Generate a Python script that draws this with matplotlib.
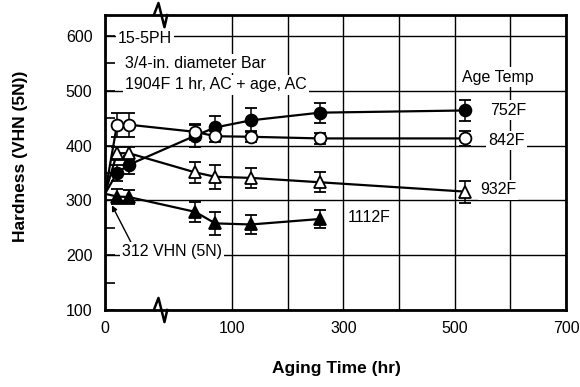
import numpy as np
import matplotlib
matplotlib.use("Agg")
import matplotlib.pyplot as plt

# ==============================
# Data
# ==============================
START_HOURS = 0
START_HV = 312          # 312 VHN (5N) as-solution-treated

hours = [4, 8, 34, 70, 134, 258, 518]
hours_1112 = [4, 8, 34, 70, 134, 258]

hv_752 = [350, 365, 418, 433, 446, 460, 464]
err_752 = [15, 16, 20, 20, 22, 18, 20]

hv_842 = [438, 438, 425, 417, 416, 413, 413]
err_842 = [22, 22, 15, 10, 10, 10, 14]

hv_932 = [386, 386, 351, 343, 341, 333, 316]
err_932 = [12, 12, 19, 22, 18, 18, 20]

hv_1112 = [307, 306, 279, 258, 256, 266]
err_1112 = [13, 13, 18, 21, 17, 16]

x_ticks = [0, 100, 300, 500, 700]
x_minor = [200, 400, 600]
y_ticks = [100, 200, 300, 400, 500, 600]

# ==============================
# Broken (piecewise) time axis
# ==============================
KNOT_H = np.array([-700, 0, 12, 30, 700, 1400], dtype=float)
KNOT_P = np.array([-2100, 0, 36, 88, 461, 834], dtype=float)


def fwd(v):
    return np.interp(v, KNOT_H, KNOT_P)


def inv(p):
    return np.interp(p, KNOT_P, KNOT_H)


plt.rcParams["font.family"] = ["Liberation Sans", "DejaVu Sans"]

fig = plt.figure(figsize=(5.8, 3.87), dpi=100)
ax = fig.add_axes([0.181, 0.199, 0.795, 0.762])
ax.set_xscale("function", functions=(fwd, inv))

series = [
    (hours, hv_752, err_752, "o", "black"),
    (hours, hv_842, err_842, "o", "white"),
    (hours, hv_932, err_932, "^", "white"),
    (hours_1112, hv_1112, err_1112, "^", "black"),
]

for h, hv, err, mk, face in series:
    ax.plot([START_HOURS] + h, [START_HV] + hv, color="black", linewidth=1.6, zorder=3)
    ax.errorbar(h, hv, yerr=err, fmt=mk, color="black", markerfacecolor=face,
                markeredgecolor="black", markersize=8.5, markeredgewidth=1.3,
                elinewidth=1.1, capsize=4, capthick=1.1, zorder=4)

ax.set_xlim(0, 700)
ax.set_ylim(100, 638)

ax.set_xticks(x_ticks)
ax.set_xticks(x_minor, minor=True)
ax.set_yticks(y_ticks)
ax.set_yticks(np.arange(150, 638, 100), minor=True)

ax.tick_params(axis="x", which="both", length=0, pad=8, labelsize=11.5)
ax.tick_params(axis="y", which="major", direction="in", length=7, width=1.2,
               pad=9, labelsize=11.5)
ax.tick_params(axis="y", which="minor", direction="in", length=7, width=1.2)

ax.grid(True, axis="x", which="both", color="black", linewidth=1.0, zorder=1)
ax.grid(True, axis="y", which="major", color="black", linewidth=1.0, zorder=1)

for s in ax.spines.values():
    s.set_linewidth(2.0)

ax.set_xlabel("Aging Time (hr)", fontsize=12.5, fontweight="bold")
ax.set_ylabel("Hardness (VHN (5N))", fontsize=12.5, fontweight="bold")
ax.xaxis.set_label_coords(0.503, -0.172)
ax.yaxis.set_label_coords(-0.167, 0.52)

# ==============================
# Annotations
# ==============================
box = dict(facecolor="white", edgecolor="none", pad=1.5)
ax.text(0.028, 0.922, "15-5PH", transform=ax.transAxes, fontsize=11.5,
        va="center", ha="left", bbox=box, zorder=5)
ax.text(0.043, 0.837, "3/4-in. diameter Bar", transform=ax.transAxes, fontsize=11.5,
        va="center", ha="left", bbox=box, zorder=5)
ax.text(0.043, 0.763, "1904F 1 hr, AC + age, AC", transform=ax.transAxes, fontsize=11.5,
        va="center", ha="left", bbox=box, zorder=5)

ax.text(0.774, 0.790, "Age Temp", transform=ax.transAxes, fontsize=11.5,
        va="center", ha="left", bbox=box, zorder=5)
ax.text(0.835, 0.678, "752F", transform=ax.transAxes, fontsize=11.5,
        va="center", ha="left", bbox=box, zorder=5)
ax.text(0.831, 0.576, "842F", transform=ax.transAxes, fontsize=11.5,
        va="center", ha="left", bbox=box, zorder=5)
ax.text(0.813, 0.407, "932F", transform=ax.transAxes, fontsize=11.5,
        va="center", ha="left", bbox=box, zorder=5)
ax.text(0.527, 0.312, "1112F", transform=ax.transAxes, fontsize=11.5,
        va="center", ha="left", bbox=box, zorder=5)

ax.annotate("312 VHN (5N)", xy=(0.015, 0.355), xycoords="axes fraction",
            xytext=(0.037, 0.197), textcoords="axes fraction",
            fontsize=11.5, va="center", ha="left", bbox=box, zorder=5,
            arrowprops=dict(arrowstyle="-|>", color="black", lw=1.0,
                            mutation_scale=8, shrinkA=0, shrinkB=0,
                            relpos=(0.1, 1.0)))

# axis break marks (top and bottom)
bx = [0.106, 0.116, 0.129, 0.135]
for base in (0.0, 1.0):
    ax.plot(bx, [base, base + 0.041, base - 0.041, base], transform=ax.transAxes,
            color="black", linewidth=1.8, clip_on=False, zorder=6)

fig.savefig("out.png", dpi=100)
